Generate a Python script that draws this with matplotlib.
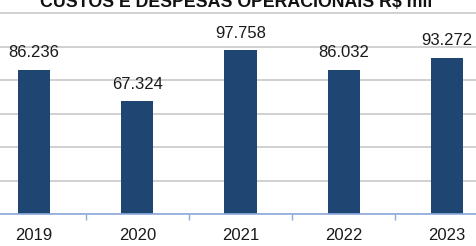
import matplotlib
matplotlib.use("Agg")
import matplotlib.pyplot as plt

# custos e despesas operacionais, R$ mil
years = ["2019", "2020", "2021", "2022", "2023"]
values = [86.236, 67.324, 97.758, 86.032, 93.272]
labels = ["86.236", "67.324", "97.758", "86.032", "93.272"]

plt.rcParams['font.family'] = ['Liberation Sans', 'DejaVu Sans']

fig = plt.figure(figsize=(4.76, 2.46), dpi=100)
# axes a bit wider than the figure: the original image is cropped on both sides
ax = fig.add_axes([-17.6 / 476, 32 / 246, 516.2 / 476, 204 / 246])

x = range(len(years))
ax.bar(x, values, width=0.31, color='#1f4572', zorder=3)

for i, v in enumerate(values):
    ax.annotate(labels[i], (i, v), xytext=(0, 7), textcoords='offset points',
                ha='center', va='bottom', fontsize=12, color='#1a1a1a')

ax.set_xlim(-0.5, 4.5)
ax.set_ylim(0, 120 * 204 / 201)
ax.set_yticks(range(0, 121, 20))
ax.yaxis.grid(True, color='#cdcdcd', linewidth=1.3, zorder=0)
ax.tick_params(axis='y', left=False, labelleft=False)

ax.set_xticks(list(x))
ax.set_xticklabels(years, fontsize=12, color='#1a1a1a')
ax.set_xticks([0.5, 1.5, 2.5, 3.5], minor=True)
ax.tick_params(axis='x', which='major', length=0, pad=10)
ax.tick_params(axis='x', which='minor', length=4, color='#8eaadb', width=1)

for s in ['top', 'left', 'right']:
    ax.spines[s].set_visible(False)
ax.spines['bottom'].set_color('#8eaadb')
ax.spines['bottom'].set_linewidth(1.2)
ax.spines['bottom'].set_zorder(4)

fig.text(236 / 476, (246 - 7) / 246, "CUSTOS E DESPESAS OPERACIONAIS R$ mil",
         ha='center', va='baseline', fontsize=12.8, fontweight='bold', color='#111111')

fig.savefig("out.png", dpi=100)
